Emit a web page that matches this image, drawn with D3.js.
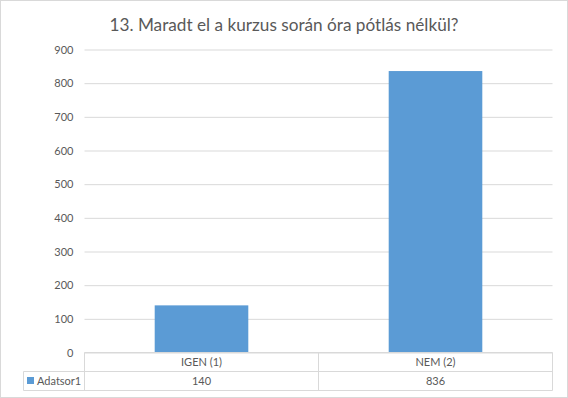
<!DOCTYPE html>
<html><head><meta charset="utf-8">
<script src="https://cdn.jsdelivr.net/npm/d3@7"></script>
<style>body{margin:0;background:#fff;} svg{display:block;}</style>
</head><body>
<script>
const title = "13. Maradt el  a kurzus során óra pótlás nélkül?";
const categories = ["IGEN (1)", "NEM (2)"];
const values = [140, 836];
const seriesName = "Adatsor1";
const yTicks = [0, 100, 200, 300, 400, 500, 600, 700, 800, 900];

(function () {
const W = 568, H = 398;
const font = "Lato, 'Open Sans', sans-serif";
const textColor = "#595959", gridColor = "#d9d9d9", barColor = "#5b9bd5";
const svg = d3.select("body").append("svg").attr("width", W).attr("height", H);

svg.append("rect").attr("x", 0.5).attr("y", 0.5).attr("width", W - 1).attr("height", H - 1)
  .attr("fill", "#fff").attr("stroke", gridColor);

const pLeft = 84.5, pRight = 552.5, pTop = 49.5, pBottom = 352.5;
const x = d3.scaleBand().domain(categories).range([pLeft, pRight]).padding(0);
const y = d3.scaleLinear().domain([0, 900]).range([pBottom, pTop]);

svg.append("text").attr("x", W / 2).attr("y", 31).attr("text-anchor", "middle")
  .attr("font-family", font).attr("font-size", 17.2).attr("fill", textColor).text(title);

const yAxis = svg.append("g").attr("transform", `translate(${pLeft},0)`)
  .call(d3.axisLeft(y).tickValues(yTicks).tickSize(-(pRight - pLeft)).tickPadding(11));
yAxis.select(".domain").remove();
yAxis.selectAll(".tick line").attr("stroke", gridColor);
yAxis.selectAll(".tick text").attr("fill", textColor).attr("font-family", font).attr("font-size", 11);

const bw = x.bandwidth() * 0.4;
svg.selectAll("rect.bar").data(values).join("rect").attr("class", "bar")
  .attr("x", (d, i) => x(categories[i]) + (x.bandwidth() - bw) / 2)
  .attr("width", bw)
  .attr("y", d => y(d))
  .attr("height", d => y(0) - y(d))
  .attr("fill", barColor);

// data table
const r1 = pBottom, r2 = 371.5, r3 = 390.5, legLeft = 23.5;
const g = svg.append("g").attr("stroke", gridColor).attr("fill", "none");
g.append("line").attr("x1", pLeft).attr("x2", pRight).attr("y1", r1).attr("y2", r1);
g.append("line").attr("x1", legLeft).attr("x2", pRight).attr("y1", r2).attr("y2", r2);
g.append("line").attr("x1", legLeft).attr("x2", pRight).attr("y1", r3).attr("y2", r3);
g.append("line").attr("x1", legLeft).attr("x2", legLeft).attr("y1", r2).attr("y2", r3);
[pLeft, ...categories.map(c => x(c) + x.bandwidth())].forEach(xx =>
  g.append("line").attr("x1", xx).attr("x2", xx).attr("y1", r1).attr("y2", r3));

categories.forEach((c, i) => {
  svg.append("text").attr("x", x(c) + x.bandwidth() / 2).attr("y", (r1 + r2) / 2 + 4)
    .attr("text-anchor", "middle").attr("font-family", font).attr("font-size", 11)
    .attr("fill", textColor).text(c);
  svg.append("text").attr("x", x(c) + x.bandwidth() / 2).attr("y", (r2 + r3) / 2 + 4)
    .attr("text-anchor", "middle").attr("font-family", font).attr("font-size", 11)
    .attr("fill", textColor).text(values[i]);
});
svg.append("rect").attr("x", 27).attr("y", 377).attr("width", 7).attr("height", 7).attr("fill", barColor);
svg.append("text").attr("x", 37).attr("y", (r2 + r3) / 2 + 4).attr("font-family", font)
  .attr("font-size", 11).attr("fill", textColor).text(seriesName);
})();
</script>
</body></html>
